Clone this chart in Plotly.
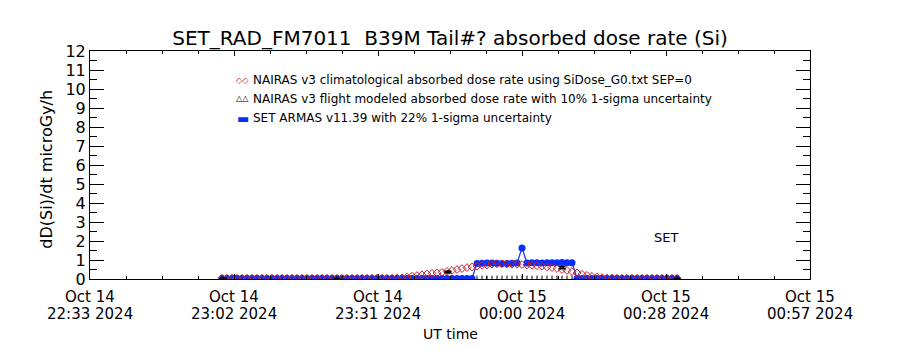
import plotly.graph_objects as go
from datetime import datetime, timedelta

# ---- axis layout in time ----------------------------------------------
axis_start = datetime(2024, 10, 14, 22, 33, 36)
axis_span_min = 144.0
major_step_min = 28.8
minor_step_min = 7.2

tick_dates = ["Oct 14", "Oct 14", "Oct 14", "Oct 15", "Oct 15", "Oct 15"]
tick_times = ["22:33 2024", "23:02 2024", "23:31 2024",
              "00:00 2024", "00:28 2024", "00:57 2024"]

# ---- SET ARMAS v11.39, one-minute samples from 23:00 UT ----------------
armas_start = datetime(2024, 10, 14, 23, 0, 0)
armas_dose = [
    0.03, 0.03, 0.03, 0.03, 0.03, 0.03, 0.03, 0.03, 0.03, 0.03,
    0.03, 0.03, 0.03, 0.03, 0.03, 0.03, 0.03, 0.03, 0.03, 0.03,
    0.03, 0.03, 0.03, 0.03, 0.03, 0.03, 0.03, 0.03, 0.03, 0.03,
    0.03, 0.03, 0.03, 0.03, 0.03, 0.03, 0.03, 0.03, 0.03, 0.03,
    0.03, 0.03, 0.03, 0.03, 0.03, 0.03, 0.03, 0.03, 0.03, 0.03,
    0.03, 0.82, 0.83, 0.84, 0.84, 0.83, 0.82, 0.82, 0.83, 0.84,
    1.63, 0.84, 0.85, 0.85, 0.84, 0.85, 0.86, 0.86, 0.87, 0.86,
    0.86, 0.03, 0.03, 0.03, 0.03, 0.03, 0.03, 0.03, 0.03, 0.03,
    0.03, 0.03, 0.03, 0.03, 0.03, 0.03, 0.03, 0.03, 0.03, 0.03,
    0.03, 0.03,
]

# ---- NAIRAS v3 climatological dose rate on the same minute grid --------
clim_dose = [
    0.04, 0.04, 0.04, 0.04, 0.04, 0.04, 0.04, 0.04, 0.04, 0.04,
    0.04, 0.04, 0.04, 0.04, 0.04, 0.04, 0.04, 0.04, 0.04, 0.04,
    0.04, 0.04, 0.04, 0.04, 0.04, 0.04, 0.04, 0.04, 0.04, 0.04,
    0.04, 0.04, 0.04, 0.04, 0.04, 0.05, 0.06, 0.10, 0.15, 0.18,
    0.22, 0.26, 0.29, 0.31, 0.35, 0.40, 0.45, 0.50, 0.55, 0.60,
    0.63, 0.68, 0.72, 0.74, 0.78, 0.80, 0.80, 0.79, 0.78, 0.77,
    0.76, 0.74, 0.72, 0.70, 0.67, 0.64, 0.60, 0.55, 0.50, 0.45,
    0.39, 0.32, 0.25, 0.19, 0.14, 0.10, 0.07, 0.05, 0.05, 0.04,
    0.04, 0.04, 0.04, 0.04, 0.04, 0.04, 0.04, 0.04, 0.04, 0.04,
    0.04, 0.04,
]

# ---- NAIRAS v3 flight-modeled baseline on the minute grid --------------
flight_floor = [
    0.03, 0.03, 0.03, 0.03, 0.03, 0.03, 0.03, 0.03, 0.03, 0.03,
    0.03, 0.03, 0.03, 0.03, 0.03, 0.03, 0.03, 0.03, 0.03, 0.03,
    0.03, 0.03, 0.03, 0.03, 0.03, 0.03, 0.03, 0.03, 0.03, 0.03,
    0.03, 0.03, 0.03, 0.03, 0.03, 0.03, 0.03, 0.03, 0.03, 0.03,
    0.03, 0.03, 0.03, 0.03, 0.03, 0.03, 0.03, 0.03, 0.03, 0.03,
    0.03, 0.03, 0.03, 0.03, 0.03, 0.03, 0.03, 0.03, 0.03, 0.03,
    0.03, 0.03, 0.03, 0.03, 0.03, 0.03, 0.03, 0.03, 0.03, 0.03,
    0.03, 0.03, 0.03, 0.03, 0.03, 0.03, 0.03, 0.03, 0.03, 0.03,
    0.03, 0.03, 0.03, 0.03, 0.03, 0.03, 0.03, 0.03, 0.03, 0.03,
    0.03, 0.03,
]

# ---- NAIRAS v3 flight-modeled points with 10% 1-sigma ------------------
flight_time = ["2024-10-14 23:00:12", "2024-10-14 23:23:00",
               "2024-10-14 23:45:12", "2024-10-15 00:08:00",
               "2024-10-15 00:31:00"]
flight_dose = [0.02, 0.02, 0.37, 0.60, 0.02]
flight_sigma = 0.10

legend_labels = [
    "NAIRAS v3 climatological absorbed dose rate using SiDose_G0.txt SEP=0",
    "NAIRAS v3 flight modeled absorbed dose rate with 10% 1-sigma uncertainty",
    "SET ARMAS v11.39 with 22% 1-sigma uncertainty",
]

RED = "#c0202a"
BLUE = "#0a2dff"
FONT = "DejaVu Sans"

minute_grid = [armas_start + timedelta(minutes=i) for i in range(len(armas_dose))]
axis_end = axis_start + timedelta(minutes=axis_span_min)
major_ticks = [axis_start + timedelta(minutes=major_step_min * i)
               for i in range(len(tick_times))]

fig = go.Figure()

fig.add_trace(go.Scatter(
    x=minute_grid, y=flight_floor, mode="markers",
    marker=dict(symbol="line-ns", size=4, color="black",
                line=dict(color="black", width=1)),
    showlegend=False, hoverinfo="skip"))

fig.add_trace(go.Scatter(
    x=minute_grid, y=armas_dose, mode="lines+markers",
    line=dict(color=BLUE, width=1.2),
    marker=dict(symbol="circle", size=7, color=BLUE, line=dict(width=0)),
    showlegend=False))

fig.add_trace(go.Scatter(
    x=minute_grid, y=clim_dose, mode="markers",
    marker=dict(symbol="diamond-open", size=6, color=RED,
                line=dict(color=RED, width=1)),
    showlegend=False))

fig.add_trace(go.Scatter(
    x=flight_time, y=flight_dose, mode="markers",
    marker=dict(symbol="triangle-up-open", size=4, color="black",
                line=dict(color="black", width=1)),
    error_y=dict(type="percent", value=flight_sigma * 100, color="black",
                 thickness=1.5, width=3.5),
    showlegend=False))

annotations = []
# two-row date / time tick labels under each major tick
for tx, d, t in zip(major_ticks, tick_dates, tick_times):
    annotations.append(dict(x=tx, xref="x", y=0, yref="paper", text=d,
                            showarrow=False, yanchor="middle", yshift=-18,
                            font=dict(family=FONT, size=15, color="black")))
    annotations.append(dict(x=tx, xref="x", y=0, yref="paper", text=t,
                            showarrow=False, yanchor="middle", yshift=-35,
                            font=dict(family=FONT, size=15, color="black")))

# legend block inside the plot
legend_glyphs = [
    ("\u25c7\u25c7", RED, 8),
    ("\u25b3\u25b3", "black", 8),
    ("\u25ac", BLUE, 13),
]
legend_rows_y = [0.8728, 0.7895, 0.7061]
for (g, c, s), lab, ry in zip(legend_glyphs, legend_labels, legend_rows_y):
    annotations.append(dict(x=0.2236, y=ry, xref="paper", yref="paper",
                            text=g, showarrow=False, xanchor="right",
                            yanchor="middle",
                            font=dict(family=FONT, size=s, color=c)))
    annotations.append(dict(x=0.2236, y=ry, xref="paper", yref="paper",
                            text=lab, showarrow=False, xanchor="left",
                            yanchor="middle",
                            font=dict(family=FONT, size=12, color="black")))

annotations.append(dict(x=0.8, y=0.18, xref="paper", yref="paper", text="SET",
                        showarrow=False, xanchor="center", yanchor="middle",
                        font=dict(family=FONT, size=13, color="black")))
annotations.append(dict(x=0.5, y=0, xref="paper", yref="paper", text="UT time",
                        showarrow=False, xanchor="center", yanchor="middle",
                        yshift=-55, font=dict(family=FONT, size=14, color="black")))
annotations.append(dict(x=-0.061, y=0.48, xref="paper", yref="paper",
                        text="dD(Si)/dt microGy/h", textangle=-90,
                        showarrow=False, xanchor="center", yanchor="middle",
                        font=dict(family=FONT, size=16, color="black")))

fig.update_layout(
    width=900, height=350,
    margin=dict(l=90, r=90, t=51, b=71),
    paper_bgcolor="white", plot_bgcolor="white",
    font=dict(family=FONT, color="black"),
    title=dict(text="SET_RAD_FM7011\u00a0\u00a0B39M Tail#? absorbed dose rate (Si)",
               x=0.5, xref="paper", xanchor="center",
               y=1 - 38 / 350, yanchor="middle",
               font=dict(family=FONT, size=20, color="black")),
    annotations=annotations,
    showlegend=False,
)

fig.update_xaxes(
    type="date", range=[axis_start, axis_end],
    tickmode="array", tickvals=major_ticks, showticklabels=False,
    ticks="inside", ticklen=5, tickwidth=1, tickcolor="black",
    minor=dict(ticks="inside", ticklen=3, tickcolor="black",
               dtick=minor_step_min * 60000, tick0=axis_start, showgrid=False),
    showline=True, linecolor="black", linewidth=1, mirror="ticks",
    showgrid=False, zeroline=False,
)
fig.update_yaxes(
    range=[0, 12], tickmode="linear", tick0=0, dtick=1,
    ticks="inside", ticklen=14, tickwidth=1, tickcolor="black",
    minor=dict(ticks="inside", ticklen=7, tickcolor="black", dtick=0.5,
               showgrid=False),
    tickfont=dict(family=FONT, size=16, color="black"),
    showline=True, linecolor="black", linewidth=1, mirror="ticks",
    showgrid=False, zeroline=False,
)

fig.write_html("out.html")
